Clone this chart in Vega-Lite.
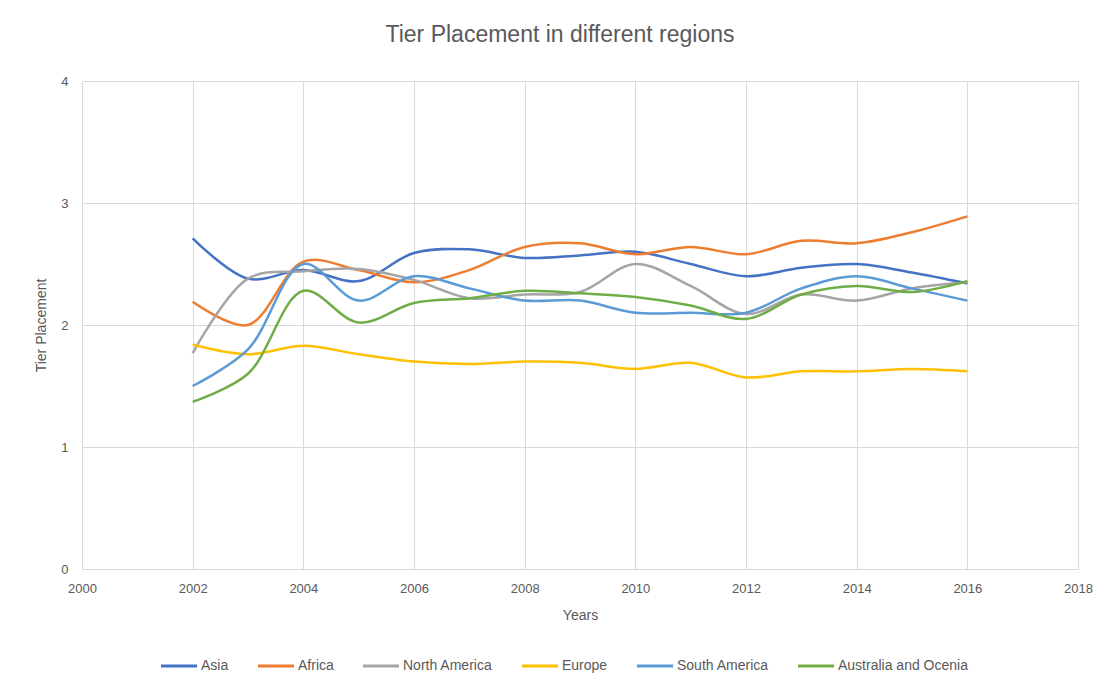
{
  "$schema": "https://vega.github.io/schema/vega-lite/v6.json",
  "width": 996,
  "height": 488,
  "autosize": {"type": "none"},
  "padding": {"left": 82, "top": 81, "right": 25, "bottom": 123},
  "background": "white",
  "title": {
    "text": "Tier Placement in different regions",
    "font": "Liberation Sans",
    "fontSize": 23,
    "fontWeight": "normal",
    "color": "#595959",
    "anchor": "middle",
    "dx": -20,
    "offset": 28
  },
  "config": {
    "view": {"stroke": null},
    "axis": {
      "labelFont": "Liberation Sans",
      "titleFont": "Liberation Sans",
      "labelColor": "#595959",
      "titleColor": "#595959",
      "labelFontSize": 13,
      "titleFontSize": 14,
      "titleFontWeight": "normal",
      "gridColor": "#d9d9d9",
      "domainColor": "#d9d9d9",
      "ticks": false
    },
    "legend": {
      "labelFont": "Liberation Sans",
      "labelFontSize": 14,
      "labelColor": "#595959"
    }
  },
  "data": {
    "values": [
      {"year": 2002, "region": "Asia", "v": 2.71},
      {"year": 2003, "region": "Asia", "v": 2.38},
      {"year": 2004, "region": "Asia", "v": 2.45},
      {"year": 2005, "region": "Asia", "v": 2.36},
      {"year": 2006, "region": "Asia", "v": 2.59},
      {"year": 2007, "region": "Asia", "v": 2.62},
      {"year": 2008, "region": "Asia", "v": 2.55},
      {"year": 2009, "region": "Asia", "v": 2.57},
      {"year": 2010, "region": "Asia", "v": 2.6},
      {"year": 2011, "region": "Asia", "v": 2.5},
      {"year": 2012, "region": "Asia", "v": 2.4},
      {"year": 2013, "region": "Asia", "v": 2.47},
      {"year": 2014, "region": "Asia", "v": 2.5},
      {"year": 2015, "region": "Asia", "v": 2.43},
      {"year": 2016, "region": "Asia", "v": 2.34},
      {"year": 2002, "region": "Africa", "v": 2.19},
      {"year": 2003, "region": "Africa", "v": 2.0},
      {"year": 2004, "region": "Africa", "v": 2.52},
      {"year": 2005, "region": "Africa", "v": 2.45},
      {"year": 2006, "region": "Africa", "v": 2.35},
      {"year": 2007, "region": "Africa", "v": 2.45},
      {"year": 2008, "region": "Africa", "v": 2.64},
      {"year": 2009, "region": "Africa", "v": 2.67},
      {"year": 2010, "region": "Africa", "v": 2.58},
      {"year": 2011, "region": "Africa", "v": 2.64},
      {"year": 2012, "region": "Africa", "v": 2.58},
      {"year": 2013, "region": "Africa", "v": 2.69},
      {"year": 2014, "region": "Africa", "v": 2.67},
      {"year": 2015, "region": "Africa", "v": 2.76},
      {"year": 2016, "region": "Africa", "v": 2.89},
      {"year": 2002, "region": "North America", "v": 1.77},
      {"year": 2003, "region": "North America", "v": 2.38},
      {"year": 2004, "region": "North America", "v": 2.44},
      {"year": 2005, "region": "North America", "v": 2.46},
      {"year": 2006, "region": "North America", "v": 2.37},
      {"year": 2007, "region": "North America", "v": 2.22},
      {"year": 2008, "region": "North America", "v": 2.25},
      {"year": 2009, "region": "North America", "v": 2.27},
      {"year": 2010, "region": "North America", "v": 2.5},
      {"year": 2011, "region": "North America", "v": 2.32},
      {"year": 2012, "region": "North America", "v": 2.09},
      {"year": 2013, "region": "North America", "v": 2.25},
      {"year": 2014, "region": "North America", "v": 2.2},
      {"year": 2015, "region": "North America", "v": 2.3},
      {"year": 2016, "region": "North America", "v": 2.35},
      {"year": 2002, "region": "Europe", "v": 1.84},
      {"year": 2003, "region": "Europe", "v": 1.76},
      {"year": 2004, "region": "Europe", "v": 1.83},
      {"year": 2005, "region": "Europe", "v": 1.76},
      {"year": 2006, "region": "Europe", "v": 1.7},
      {"year": 2007, "region": "Europe", "v": 1.68},
      {"year": 2008, "region": "Europe", "v": 1.7},
      {"year": 2009, "region": "Europe", "v": 1.69},
      {"year": 2010, "region": "Europe", "v": 1.64},
      {"year": 2011, "region": "Europe", "v": 1.69},
      {"year": 2012, "region": "Europe", "v": 1.57},
      {"year": 2013, "region": "Europe", "v": 1.62},
      {"year": 2014, "region": "Europe", "v": 1.62},
      {"year": 2015, "region": "Europe", "v": 1.64},
      {"year": 2016, "region": "Europe", "v": 1.62},
      {"year": 2002, "region": "South America", "v": 1.5},
      {"year": 2003, "region": "South America", "v": 1.8},
      {"year": 2004, "region": "South America", "v": 2.5},
      {"year": 2005, "region": "South America", "v": 2.2},
      {"year": 2006, "region": "South America", "v": 2.4},
      {"year": 2007, "region": "South America", "v": 2.3},
      {"year": 2008, "region": "South America", "v": 2.2},
      {"year": 2009, "region": "South America", "v": 2.2},
      {"year": 2010, "region": "South America", "v": 2.1},
      {"year": 2011, "region": "South America", "v": 2.1},
      {"year": 2012, "region": "South America", "v": 2.1},
      {"year": 2013, "region": "South America", "v": 2.3},
      {"year": 2014, "region": "South America", "v": 2.4},
      {"year": 2015, "region": "South America", "v": 2.3},
      {"year": 2016, "region": "South America", "v": 2.2},
      {"year": 2002, "region": "Australia and Ocenia", "v": 1.37},
      {"year": 2003, "region": "Australia and Ocenia", "v": 1.6},
      {"year": 2004, "region": "Australia and Ocenia", "v": 2.28},
      {"year": 2005, "region": "Australia and Ocenia", "v": 2.02},
      {"year": 2006, "region": "Australia and Ocenia", "v": 2.18},
      {"year": 2007, "region": "Australia and Ocenia", "v": 2.22},
      {"year": 2008, "region": "Australia and Ocenia", "v": 2.28},
      {"year": 2009, "region": "Australia and Ocenia", "v": 2.26},
      {"year": 2010, "region": "Australia and Ocenia", "v": 2.23},
      {"year": 2011, "region": "Australia and Ocenia", "v": 2.16},
      {"year": 2012, "region": "Australia and Ocenia", "v": 2.05},
      {"year": 2013, "region": "Australia and Ocenia", "v": 2.25},
      {"year": 2014, "region": "Australia and Ocenia", "v": 2.32},
      {"year": 2015, "region": "Australia and Ocenia", "v": 2.27},
      {"year": 2016, "region": "Australia and Ocenia", "v": 2.36}
    ]
  },
  "mark": {"type": "line", "interpolate": "catmull-rom", "strokeWidth": 2.5},
  "encoding": {
    "x": {
      "field": "year",
      "type": "quantitative",
      "title": "Years",
      "scale": {"domain": [2000, 2018], "nice": false, "zero": false},
      "axis": {"values": [2000, 2002, 2004, 2006, 2008, 2010, 2012, 2014, 2016, 2018], "format": "d", "labelPadding": 13, "titlePadding": 13, "labelFlush": false}
    },
    "y": {
      "field": "v",
      "type": "quantitative",
      "title": "Tier Placement",
      "scale": {"domain": [0, 4]},
      "axis": {"values": [0, 1, 2, 3, 4], "labelPadding": 14, "titlePadding": 12, "domain": false}
    },
    "color": {
      "field": "region",
      "type": "nominal",
      "sort": ["Asia", "Africa", "North America", "Europe", "South America", "Australia and Ocenia"],
      "scale": {
        "domain": ["Asia", "Africa", "North America", "Europe", "South America", "Australia and Ocenia"],
        "range": ["#4472C4", "#ED7D31", "#A5A5A5", "#FFC000", "#5B9BD5", "#70AD47"]
      },
      "legend": {
        "title": null,
        "orient": "none",
        "direction": "horizontal",
        "legendX": 77,
        "legendY": 565,
        "symbolType": "stroke",
        "symbolSize": 1300,
        "symbolStrokeWidth": 3,
        "labelOffset": 2,
        "columnPadding": 22
      }
    }
  }
}
